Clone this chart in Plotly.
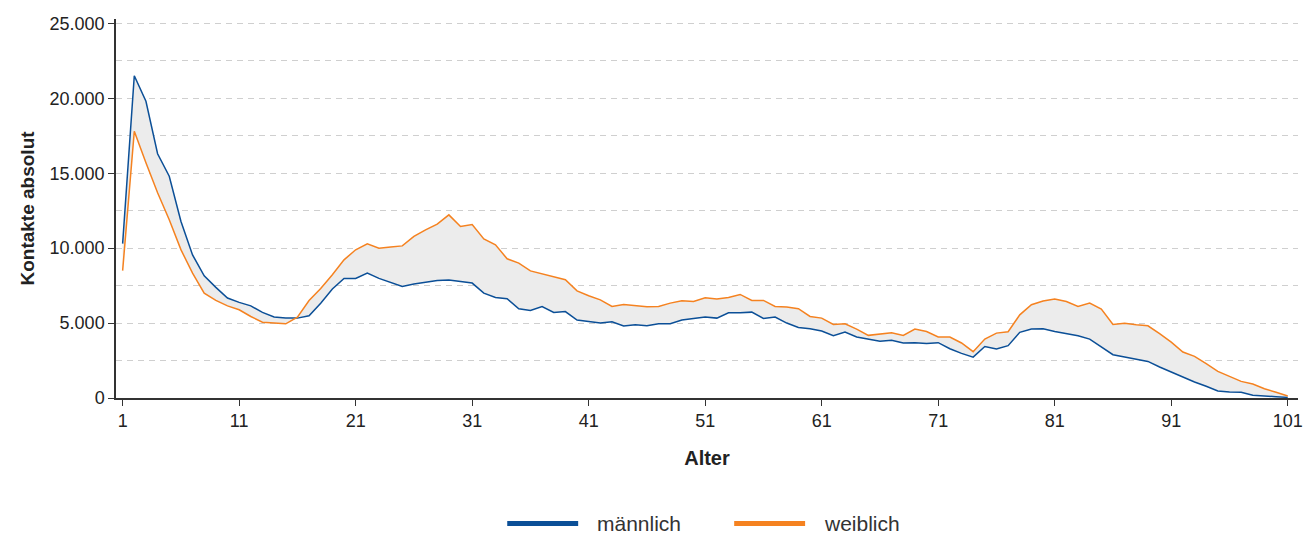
import plotly.graph_objects as go

ages = list(range(1, 102))

maennlich = [10300, 21500, 19800, 16300, 14800, 11800, 9550, 8150, 7380, 6670,
             6380, 6150, 5710, 5400, 5330, 5330, 5490, 6330, 7270, 7980,
             7980, 8330, 7980, 7710, 7440, 7600, 7730, 7840, 7870, 7780,
             7670, 7000, 6710, 6620, 5950, 5840, 6100, 5710, 5770, 5200,
             5110, 5000, 5090, 4800, 4890, 4820, 4950, 4950, 5200, 5310,
             5400, 5330, 5690, 5690, 5730, 5310, 5400, 5000, 4710, 4620,
             4470, 4150, 4400, 4070, 3910, 3780, 3860, 3670, 3690, 3640,
             3690, 3290, 2980, 2730, 3440, 3270, 3490, 4380, 4600, 4620,
             4440, 4290, 4150, 3930, 3400, 2890, 2730, 2600, 2440, 2070,
             1730, 1380, 1070, 780, 470, 400, 380, 180, 160, 90,
             40]

weiblich = [8500, 17800, 15700, 13700, 11900, 9900, 8330, 7000, 6510, 6150,
            5890, 5440, 5060, 5020, 4950, 5400, 6500, 7300, 8220, 9220,
            9890, 10290, 10000, 10070, 10150, 10780, 11220, 11600, 12220, 11440,
            11580, 10620, 10220, 9290, 9000, 8480, 8290, 8070, 7890, 7150,
            6820, 6550, 6110, 6240, 6150, 6090, 6110, 6330, 6490, 6440,
            6690, 6600, 6710, 6910, 6510, 6510, 6110, 6070, 5960, 5440,
            5330, 4910, 4950, 4600, 4180, 4240, 4350, 4180, 4600, 4440,
            4070, 4070, 3670, 3090, 3930, 4330, 4420, 5550, 6220, 6470,
            6600, 6440, 6110, 6330, 5930, 4910, 4980, 4890, 4820, 4290,
            3730, 3070, 2780, 2290, 1780, 1440, 1110, 930, 620, 380,
            130]

x_ticks = [1, 11, 21, 31, 41, 51, 61, 71, 81, 91, 101]
y_ticks = [0, 5000, 10000, 15000, 20000, 25000]
y_ticktext = ["0", "5.000", "10.000", "15.000", "20.000", "25.000"]

BLUE = "#0b4f97"
ORANGE = "#f58220"
FONT = "Liberation Sans"

fig = go.Figure()
fig.add_trace(go.Scatter(x=ages, y=maennlich, name="männlich", mode="lines",
                         line=dict(color=BLUE, width=1.5), showlegend=False))
fig.add_trace(go.Scatter(x=ages, y=weiblich, name="weiblich", mode="lines",
                         line=dict(color=ORANGE, width=1.5), fill="tonexty",
                         fillcolor="#ececec", showlegend=False))

fig.update_layout(
    width=1309, height=533,
    margin=dict(l=116, r=6, t=19, b=135),
    paper_bgcolor="white", plot_bgcolor="white",
    font=dict(family=FONT, size=18, color="#222222"),
    xaxis=dict(
        range=[0.43, 101.88], tickvals=x_ticks, ticktext=[str(v) for v in x_ticks],
        showgrid=False, zeroline=False, showline=True, linecolor="#333333", linewidth=1.5,
        ticks="outside", ticklen=6, tickcolor="#333333", tickwidth=1.2,
        tickfont=dict(size=18, color="#222222"),
        title=dict(text="<b>Alter</b>", font=dict(size=20, color="#222222"), standoff=21),
    ),
    yaxis=dict(
        range=[0, 25290], tickvals=y_ticks, ticktext=y_ticktext,
        showgrid=True, gridcolor="#cfcfcf", gridwidth=1, griddash="6px,5px",
        minor=dict(dtick=2500, tick0=0, showgrid=True, gridcolor="#cfcfcf",
                   gridwidth=1, griddash="6px,5px"),
        zeroline=False, showline=True, linecolor="#333333", linewidth=1.5,
        ticks="outside", ticklen=6, tickcolor="#333333", tickwidth=1.2,
        tickfont=dict(size=18, color="#222222"),
        title=dict(text="<b>Kontakte absolut</b>", font=dict(size=19, color="#222222"), standoff=10),
    ),
)

# manual legend (long thick line symbols)
leg_y = -0.331
legend_items = [("männlich", BLUE, 0.331, 0.391, 0.406),
                ("weiblich", ORANGE, 0.523, 0.583, 0.598)]
for name, col, x0, x1, xt in legend_items:
    fig.add_shape(type="line", xref="paper", yref="paper", x0=x0, x1=x1, y0=leg_y, y1=leg_y,
                  line=dict(color=col, width=5))
    fig.add_annotation(xref="paper", yref="paper", x=xt, y=leg_y, text=name, showarrow=False,
                       xanchor="left", yanchor="middle", height=20, borderpad=0,
                       font=dict(size=21, color="#333333"))

fig.write_html("out.html", config={"displayModeBar": False},
               post_script="document.body.style.margin='0px';document.body.style.overflow='hidden';")
